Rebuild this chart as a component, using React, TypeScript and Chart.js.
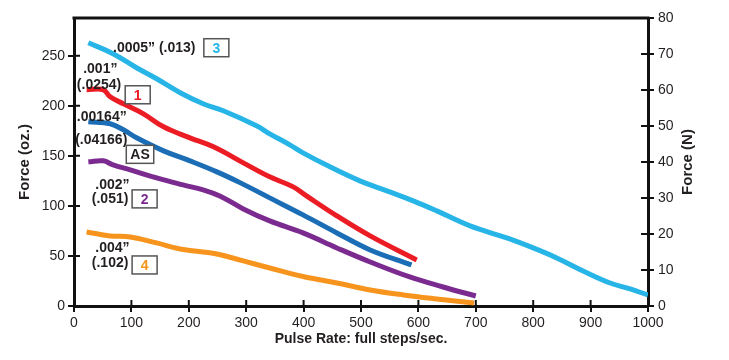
import React, { useEffect, useRef } from "react";
import { Chart, registerables } from "chart.js";
Chart.register(...registerables);

// ---- data (x: full steps/sec, y: force in oz.) ----
const cyanX = [25, 68, 109, 144, 185, 225, 260, 318, 341, 376, 399, 446, 498, 545, 591, 632, 690, 754, 800, 841, 887, 934, 969, 1000];
const cyanY = [263, 252, 238, 227, 213, 202, 195, 180, 172, 161, 153, 139, 125, 115, 105, 95, 80, 68, 58, 48, 35, 23, 17, 11];
const redX = [22, 51, 63, 86, 121, 156, 202, 243, 295, 341, 382, 405, 458, 516, 597];
const redY = [216, 216, 209, 202, 192, 179, 168, 159, 143, 129, 119, 110, 90, 70, 46];
const blueX = [25, 63, 86, 109, 156, 202, 249, 290, 341, 399, 458, 516, 588];
const blueY = [184, 182, 176, 168, 155, 145, 134, 123, 108, 91, 73, 56, 41];
const purpleX = [25, 51, 68, 98, 144, 190, 225, 254, 295, 341, 399, 458, 516, 585, 643, 700];
const purpleY = [144, 145, 141, 136, 128, 121, 116, 110, 97, 85, 73, 58, 44, 29, 19, 10];
const orangeX = [22, 63, 98, 144, 185, 225, 249, 295, 341, 399, 458, 516, 574, 632, 697];
const orangeY = [74, 70, 69, 63, 57, 54, 52, 45, 38, 29.5, 23, 16, 11, 7, 3];

const seriesNames = ["3", "1", "AS", "2", "4"];
const seriesColors = ["#27b4e6", "#ec1c24", "#1b6db5", "#7b2b8f", "#f7941d"];

// annotation texts
const annLine1 = [".0005\u201d (.013)", ".001\u201d", ".00164\u201d", ".002\u201d", ".004\u201d"];
const annLine2 = ["", "(.0254)", "(.04166)", "(.051)", "(.102)"];
const annBadgeColor = ["#27b4e6", "#ec1c24", "#231f20", "#7b2b8f", "#f7941d"];
// annotation anchors in data units
const annL1X = [68, 16, 5, 37, 37];
const annL1Y = [258, 237, 189, 121, 58];
const annL2X = [0, 5, 2, 31, 31];
const annL2Y = [0, 221, 165.5, 107, 43];
const badgeX = [248, 111, 115, 123, 123];
const badgeY = [258, 211, 151.5, 107, 41];

const xMax = 1000;
const ozMax = 287.7; // 80 N in oz
const nMax = 80;

const pts = (xs: number[], ys: number[]) => xs.map((x, i) => ({ x, y: ys[i] }));

const decor = {
  id: "decor",
  afterDraw(chart: any) {
    const { ctx, chartArea: a, scales } = chart;
    const sx = scales.x, sy = scales.y, sn = scales.y2;
    ctx.save();
    ctx.strokeStyle = "#111";
    ctx.lineWidth = 3;
    ctx.beginPath();
    ctx.moveTo(a.left - 1.5, a.top);
    ctx.lineTo(a.right + 1.5, a.top);
    ctx.stroke();
    ctx.lineWidth = 2;
    ctx.beginPath();
    sx.ticks.forEach((t: any) => {
      const p = sx.getPixelForValue(t.value);
      ctx.moveTo(p, a.bottom);
      ctx.lineTo(p, a.bottom - 6);
    });
    sy.ticks.forEach((t: any) => {
      const p = sy.getPixelForValue(t.value);
      ctx.moveTo(a.left, p);
      ctx.lineTo(a.left + 6, p);
    });
    sn.ticks.forEach((t: any) => {
      const p = sn.getPixelForValue(t.value);
      ctx.moveTo(a.right, p);
      ctx.lineTo(a.right - 7, p);
    });
    ctx.stroke();

    // right axis title (reads bottom to top)
    ctx.fillStyle = "#231f20";
    ctx.font = "bold 15px 'Liberation Sans', Arial, sans-serif";
    ctx.textAlign = "center";
    ctx.textBaseline = "middle";
    ctx.save();
    ctx.translate(a.right + 40, (a.top + a.bottom) / 2);
    ctx.rotate(-Math.PI / 2);
    ctx.fillText("Force (N)", 0, 0);
    ctx.restore();

    // annotations
    ctx.font = "bold 14px 'Liberation Sans', Arial, sans-serif";
    ctx.textAlign = "left";
    for (let i = 0; i < seriesNames.length; i++) {
      ctx.fillStyle = "#231f20";
      ctx.fillText(annLine1[i], sx.getPixelForValue(annL1X[i]), sy.getPixelForValue(annL1Y[i]));
      if (annLine2[i]) {
        ctx.fillText(annLine2[i], sx.getPixelForValue(annL2X[i]), sy.getPixelForValue(annL2Y[i]));
      }
      const bx = sx.getPixelForValue(badgeX[i]);
      const by = sy.getPixelForValue(badgeY[i]);
      const tw = ctx.measureText(seriesNames[i]).width;
      const w = Math.max(tw + 8, 25);
      const h = 18;
      ctx.fillStyle = "#fff";
      ctx.fillRect(bx - w / 2, by - h / 2, w, h);
      ctx.strokeStyle = "#555";
      ctx.lineWidth = 1.5;
      ctx.strokeRect(bx - w / 2, by - h / 2, w, h);
      ctx.fillStyle = annBadgeColor[i];
      ctx.textAlign = "center";
      ctx.fillText(seriesNames[i], bx, by + 1);
      ctx.textAlign = "left";
    }
    ctx.restore();
  },
};

export default function App() {
  const ref = useRef<HTMLCanvasElement | null>(null);
  useEffect(() => {
    if (!ref.current) return;
    const tickFont = { family: "'Liberation Sans Narrow', 'Liberation Sans', Arial, sans-serif", size: 14 };
    const titleFont = { family: "'Liberation Sans', Arial, sans-serif", size: 14, weight: "bold" as const };
    const allX = [cyanX, redX, blueX, purpleX, orangeX];
    const allY = [cyanY, redY, blueY, purpleY, orangeY];
    const chart = new Chart(ref.current, {
      type: "line",
      data: {
        datasets: allX.map((xs, i) => ({
          label: seriesNames[i],
          data: pts(xs, allY[i]),
          borderColor: seriesColors[i],
          backgroundColor: seriesColors[i],
          borderWidth: 5,
          borderCapStyle: "butt" as const,
          borderJoinStyle: "round" as const,
          pointRadius: 0,
          tension: 0.4,
          fill: false,
        })),
      },
      options: {
        responsive: false,
        animation: false,
        layout: { padding: { top: 18, left: 0, right: 0, bottom: 0 } },
        plugins: { legend: { display: false }, tooltip: { enabled: false } },
        scales: {
          x: {
            type: "linear",
            min: 0,
            max: xMax,
            ticks: { stepSize: 100, color: "#231f20", font: tickFont, padding: 3, maxRotation: 0, callback: (v: any) => String(v) },
            grid: { drawOnChartArea: false, color: "#111", lineWidth: 2, tickLength: 6 },
            border: { display: true, color: "#111", width: 3 },
            title: { display: true, text: "Pulse Rate: full steps/sec.", color: "#231f20", font: titleFont, padding: { top: 4, bottom: 12 } },
            afterFit: (s: any) => { s.height = 54; },
          },
          y: {
            type: "linear",
            position: "left",
            min: 0,
            max: ozMax,
            ticks: { stepSize: 50, color: "#231f20", font: { ...tickFont, family: "'Liberation Sans', Arial, sans-serif" }, padding: 3 },
            afterBuildTicks: (s: any) => { s.ticks = s.ticks.filter((t: any) => t.value % 50 === 0); },
            grid: { drawOnChartArea: false, color: "#111", lineWidth: 2, tickLength: 6 },
            border: { display: true, color: "#111", width: 3 },
            title: { display: true, text: "Force (oz.)", color: "#231f20", font: { ...titleFont, size: 15 }, padding: { top: 16, bottom: 4 } },
            afterFit: (s: any) => { s.width = 74; },
          },
          y2: {
            type: "linear",
            position: "right",
            min: 0,
            max: nMax,
            ticks: { stepSize: 10, color: "#231f20", font: tickFont, padding: 4 },
            grid: { drawOnChartArea: false, color: "#111", lineWidth: 2, tickLength: 6 },
            border: { display: true, color: "#111", width: 3 },
            afterFit: (s: any) => { s.width = 81; },
          },
        },
      },
      plugins: [decor],
    });
    return () => chart.destroy();
  }, []);
  return (
    <div style={{ position: "absolute", left: 0, top: 0, width: 729, height: 360, background: "#fff" }}>
      <canvas ref={ref} width={729} height={360} />
    </div>
  );
}
